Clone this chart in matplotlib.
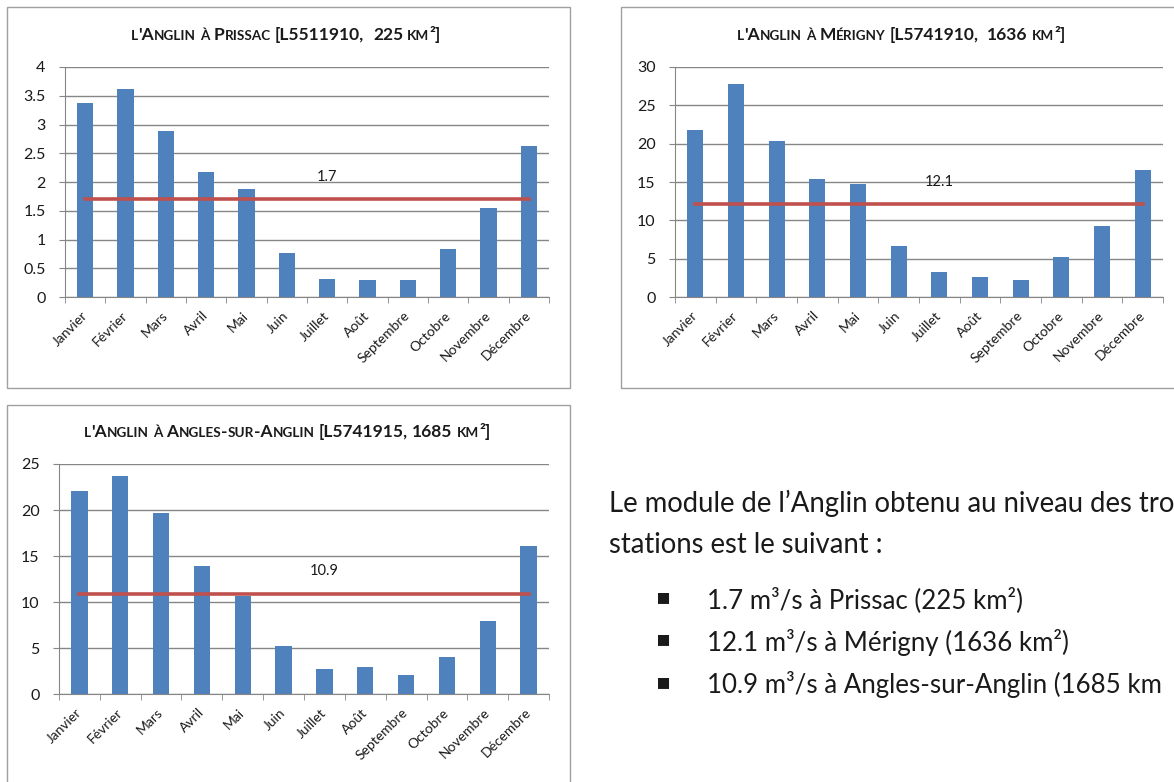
import matplotlib
matplotlib.use("Agg")
import matplotlib.pyplot as plt
from matplotlib.patches import Rectangle
from matplotlib.ticker import FuncFormatter

W, H = 1174, 782

mois = ["Janvier", "Février", "Mars", "Avril", "Mai", "Juin", "Juillet",
        "Août", "Septembre", "Octobre", "Novembre", "Décembre"]

prissac = [3.37, 3.61, 2.88, 2.17, 1.87, 0.77, 0.32, 0.30, 0.30, 0.84, 1.54, 2.62]
merigny = [21.8, 27.8, 20.4, 15.4, 14.8, 6.6, 3.2, 2.6, 2.2, 5.2, 9.2, 16.6]
angles = [22.1, 23.7, 19.7, 13.9, 10.7, 5.2, 2.7, 2.9, 2.1, 4.0, 7.9, 16.1]

modules = [1.7, 12.1, 10.9]
titres = ["l'Anglin à Prissac [L5511910,  225 km²]",
          "l'Anglin à Mérigny [L5741910,  1636 km²]",
          "l'Anglin à Angles-sur-Anglin [L5741915, 1685 km²]"]
ymax = [4, 30, 25]
ystep = [0.5, 5, 5]

# texte tel qu'il apparait (coupe au bord de la capture)
texte = ["Le module de l\u2019Anglin obtenu au niveau des tro",
         "stations est le suivant :"]
puces = ["1.7 m³/s à Prissac (225 km²)",
         "12.1 m³/s à Mérigny (1636 km²)",
         "10.9 m³/s à Angles-sur-Anglin (1685 km"]

FONT = "Lato"
plt.rcParams["font.family"] = [FONT, "DejaVu Sans"]

fig = plt.figure(figsize=(W / 100, H / 100), dpi=100)
renderer = fig.canvas.get_renderer()


def px(x, y):
    return x / W, 1 - y / H


def small_caps(xc, yc, s, size, ratio=0.78):
    # matplotlib has no small caps, build them from runs of two sizes
    runs = []
    for ch in s:
        if ch == " ":
            kind = "sp"
        elif ch.islower():
            kind = "lo"
        else:
            kind = "up"
        if runs and runs[-1][0] == kind:
            runs[-1][1] += ch
        else:
            runs.append([kind, ch])
    items = []
    total = 0
    for kind, txt in runs:
        if kind == "sp":
            a = fig.text(0, 0, "i i", fontsize=size, weight="bold")
            b = fig.text(0, 0, "ii", fontsize=size, weight="bold")
            w = (a.get_window_extent(renderer).width - b.get_window_extent(renderer).width) * len(txt)
            a.remove()
            b.remove()
            items.append((None, w))
        else:
            fs = size * ratio if kind == "lo" else size
            t = fig.text(0, 0, txt.upper(), fontsize=fs, weight="bold",
                         va="baseline", ha="left", color="#1a1a1a")
            w = t.get_window_extent(renderer).width
            items.append((t, w))
        total += w
    x = xc - total / 2
    for t, w in items:
        if t is not None:
            t.set_position(px(x, yc))
        x += w


def chart(box, rect, titre_xy, titre, valeurs, module, top, step):
    bx0, by0, bx1, by1 = box
    fig.patches.append(Rectangle(px(bx0, by1), (bx1 - bx0) / W, (by1 - by0) / H,
                                 transform=fig.transFigure, fill=False,
                                 edgecolor="#a0a0a0", lw=1))
    x0, y0, x1, y1 = rect
    ax = fig.add_axes([x0 / W, 1 - y1 / H, (x1 - x0) / W, (y1 - y0) / H])
    pos = list(range(len(mois)))
    ax.bar(pos, valeurs, width=0.4, color="#4f81bd", zorder=2)
    ax.plot(pos, [module] * len(mois), color="#c0504d", lw=2.6, zorder=3)
    ax.annotate(f"{module:g}", (6, module), xytext=(0, 16), textcoords="offset points",
                ha="center", va="center", fontsize=10.5, color="#1a1a1a")
    ax.set_xlim(-0.5, len(mois) - 0.5)
    ax.set_ylim(0, top)
    ticks = [i * step for i in range(int(round(top / step)) + 1)]
    ax.set_yticks(ticks)
    ax.yaxis.set_major_formatter(FuncFormatter(lambda v, p: f"{v:g}"))
    ax.grid(axis="y", color="#868686", lw=1, zorder=0)
    ax.set_axisbelow(True)
    for s in ["top", "right"]:
        ax.spines[s].set_visible(False)
    for s in ["left", "bottom"]:
        ax.spines[s].set_color("#868686")
    ax.set_xticks(pos)
    ax.set_xticklabels(mois, rotation=45, ha="right", va="center",
                       rotation_mode="anchor", fontsize=10, color="#1a1a1a")
    ax.set_xticks([p - 0.5 for p in pos] + [len(mois) - 0.5], minor=True)
    ax.tick_params(axis="x", which="major", length=0, pad=12)
    ax.tick_params(axis="x", which="minor", length=4, color="#868686")
    ax.tick_params(axis="y", length=4, color="#868686", pad=10, labelsize=11.5,
                   labelcolor="#1a1a1a")
    small_caps(titre_xy[0], titre_xy[1], titre, 12.5)
    return ax


chart((7, 7, 570, 388), (65, 67, 549, 297), (286, 40), titres[0], prissac,
      modules[0], ymax[0], ystep[0])
chart((621, 7, 1190, 388), (675, 67, 1163, 297), (901, 40), titres[1], merigny,
      modules[1], ymax[1], ystep[1])
chart((7, 405, 570, 800), (59, 464, 549, 694), (287, 437), titres[2], angles,
      modules[2], ymax[2], ystep[2])

# paragraphe a droite
fig.text(*px(609, 512), texte[0], fontsize=19.8, va="baseline", color="#1a1a1a")
fig.text(*px(609, 553), texte[1], fontsize=19.8, va="baseline", color="#1a1a1a")
for i, p in enumerate(puces):
    y = 608 + i * 42.5
    fig.text(*px(663.5, y - 11), "\u25aa", fontsize=16, ha="center", va="center",
             family="DejaVu Sans", color="#1a1a1a")
    fig.text(*px(707, y), p, fontsize=18.6, va="baseline", color="#1a1a1a")

fig.savefig("out.png", dpi=100)
